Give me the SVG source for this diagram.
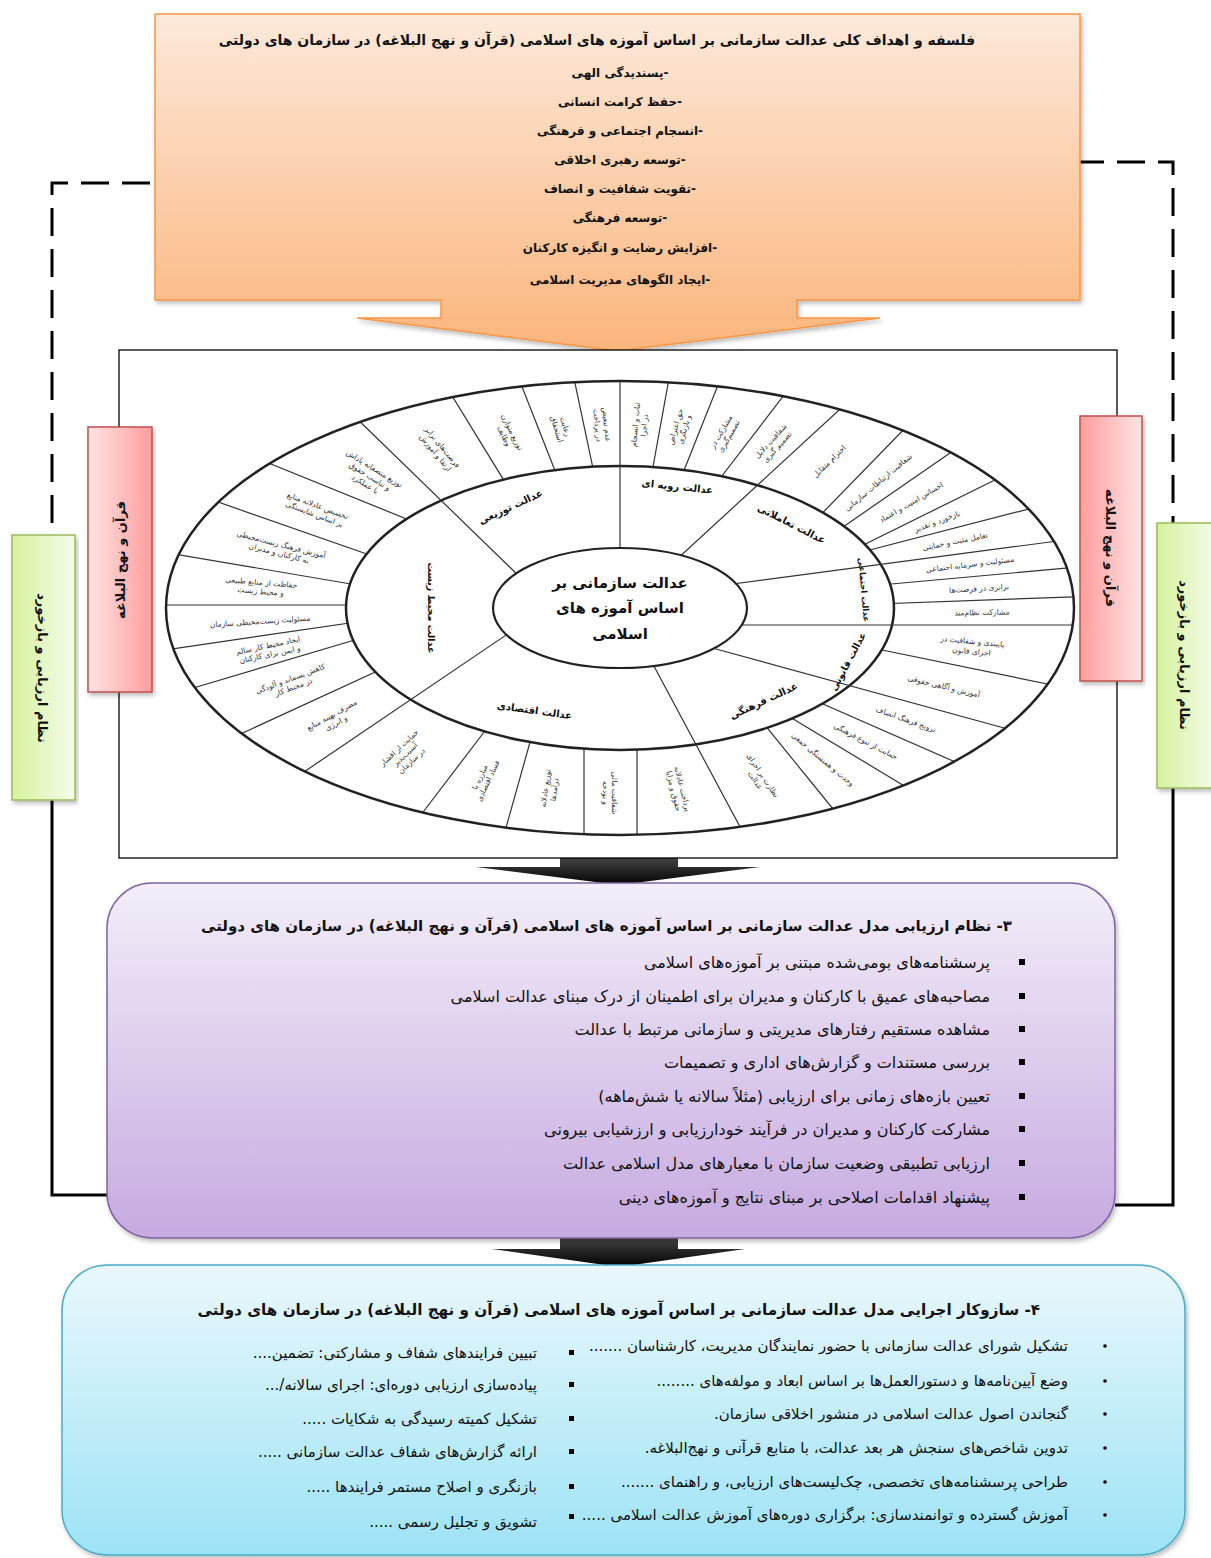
<svg xmlns="http://www.w3.org/2000/svg" width="1211" height="1558" viewBox="0 0 1211 1558">
<defs>
<style>
.fa{font-family:"DejaVu Sans",sans-serif;direction:rtl;fill:#111}
.t1{font-size:14px;font-weight:bold}
.t2{font-size:15px;font-weight:bold}
.t3{font-size:15.2px;font-weight:bold}
.it{font-size:12px;font-weight:bold;text-anchor:middle}
.pt{font-size:16px;text-anchor:start}
.bt{font-size:15px;text-anchor:start}
.side{font-size:13px;font-weight:bold;text-anchor:middle}
.c{font-size:7.5px;text-anchor:middle;fill:#333}
.sec{font-size:10px;font-weight:bold;text-anchor:middle}
.ctr{font-size:15px;font-weight:bold;text-anchor:middle}
.dv{stroke:#333;stroke-width:1.2;fill:none}
.dash{stroke:#000;stroke-width:3;fill:none;stroke-dasharray:28 13}
.solid{stroke:#000;stroke-width:3;fill:none}
</style>
<linearGradient id="gOr" x1="0" y1="0" x2="0" y2="1"><stop offset="0" stop-color="#fde9da"/><stop offset="1" stop-color="#fbb57c"/></linearGradient>
<linearGradient id="gRedL" x1="0" y1="0" x2="1" y2="0"><stop offset="0" stop-color="#ffe3e3"/><stop offset="1" stop-color="#ff9d9d"/></linearGradient>
<linearGradient id="gRedR" x1="0" y1="0" x2="1" y2="0"><stop offset="0" stop-color="#ff9d9d"/><stop offset="1" stop-color="#ffe3e3"/></linearGradient>
<linearGradient id="gGr" x1="0" y1="0" x2="1" y2="0"><stop offset="0" stop-color="#d6f29e"/><stop offset="1" stop-color="#f5fceb"/></linearGradient>
<linearGradient id="gPu" x1="0" y1="0" x2="0" y2="1"><stop offset="0" stop-color="#f3eef9"/><stop offset="1" stop-color="#c6aae0"/></linearGradient>
<linearGradient id="gBl" x1="0" y1="0" x2="0" y2="1"><stop offset="0" stop-color="#eaf8fc"/><stop offset="1" stop-color="#9de3f6"/></linearGradient>
<linearGradient id="gBk" x1="0" y1="0" x2="0" y2="1"><stop offset="0" stop-color="#444"/><stop offset="1" stop-color="#000"/></linearGradient>
<filter id="sh" x="-5%" y="-5%" width="110%" height="115%"><feDropShadow dx="2" dy="3" stdDeviation="2" flood-color="#000" flood-opacity="0.25"/></filter>
<clipPath id="clipO"><ellipse cx="620" cy="608" rx="454" ry="227"/></clipPath>
</defs>
<rect width="1211" height="1558" fill="#fff"/>

<g id="connectors">
<path class="dash" d="M150,183 H52 V535"/>
<path class="solid" d="M52,800 V1195 H107"/>
<path class="dash" d="M1076,162 H1173 V523"/>
<path class="solid" d="M1173,788 V1205 H1115"/>
<path d="M560,858 H678 V867 H760 L619,885 L476,867 H560 Z" fill="url(#gBk)"/>
<path d="M560,1238 H678 V1249 H745 L619,1267 L492,1249 H560 Z" fill="url(#gBk)"/>
</g>

<g id="philosophy">
<path d="M155,14 H1080 V300 H797 V318 H880 L618,351 L357,318 H441 V300 H155 Z" fill="url(#gOr)" stroke="#f79646" stroke-width="1.5" filter="url(#sh)"/>
<text class="fa t1" x="597" y="45" text-anchor="middle">فلسفه و اهداف کلی عدالت سازمانی بر اساس آموزه های اسلامی (قرآن و نهج البلاغه) در سازمان های دولتی</text>
<text class="fa it" x="620" y="77">-پسندیدگی الهی</text>
<text class="fa it" x="620" y="106">-حفظ کرامت انسانی</text>
<text class="fa it" x="620" y="135">-انسجام اجتماعی و فرهنگی</text>
<text class="fa it" x="620" y="164">-توسعه رهبری اخلاقی</text>
<text class="fa it" x="620" y="193">-تقویت شفافیت و انصاف</text>
<text class="fa it" x="620" y="222">-توسعه فرهنگی</text>
<text class="fa it" x="620" y="252">-افزایش رضایت و انگیزه کارکنان</text>
<text class="fa it" x="620" y="284">-ایجاد الگوهای مدیریت اسلامی</text>
</g>

<g id="model-frame">
<rect x="119" y="350" width="998" height="508" fill="#fff" stroke="#000" stroke-width="1.3"/>
</g>

<g id="wheel">
<ellipse cx="620" cy="608" rx="454" ry="227" fill="#fff"/>
<g clip-path="url(#clipO)">
<line class="dv" x1="670" y1="373" x2="649" y2="489"/>
<line class="dv" x1="722" y1="375" x2="675" y2="493"/>
<line class="dv" x1="791" y1="386" x2="705" y2="498"/>
<line class="dv" x1="912" y1="421" x2="803" y2="533"/>
<line class="dv" x1="963" y1="444" x2="817" y2="545"/>
<line class="dv" x1="1009" y1="473" x2="831" y2="561"/>
<line class="dv" x1="1048" y1="504" x2="831" y2="560"/>
<line class="dv" x1="1090" y1="566" x2="847" y2="588"/>
<line class="dv" x1="1097" y1="596" x2="849" y2="605"/>
<line class="dv" x1="1067" y1="688" x2="843" y2="642"/>
<line class="dv" x1="969" y1="768" x2="791" y2="690"/>
<line class="dv" x1="916" y1="793" x2="765" y2="702"/>
<line class="dv" x1="842" y1="820" x2="751" y2="708"/>
<line class="dv" x1="637" y1="849" x2="637" y2="735"/>
<line class="dv" x1="584" y1="847" x2="584" y2="731"/>
<line class="dv" x1="502" y1="842" x2="534" y2="728"/>
<line class="dv" x1="414" y1="824" x2="494" y2="719"/>
<line class="dv" x1="223" y1="742" x2="408" y2="657"/>
<line class="dv" x1="173" y1="694" x2="395" y2="628"/>
<line class="dv" x1="151" y1="652" x2="391" y2="617"/>
<line class="dv" x1="140" y1="605" x2="390" y2="605"/>
<line class="dv" x1="157" y1="551" x2="392" y2="591"/>
<line class="dv" x1="198" y1="495" x2="404" y2="567"/>
<line class="dv" x1="249" y1="455" x2="441" y2="533"/>
<line class="dv" x1="446" y1="386" x2="516" y2="500"/>
<line class="dv" x1="517" y1="374" x2="563" y2="491"/>
<line class="dv" x1="572" y1="369" x2="598" y2="492"/>
</g>
<ellipse cx="620" cy="608" rx="274" ry="142" fill="#fff" stroke="#222" stroke-width="2.5"/>
<g clip-path="url(#clipO)">
<line class="dv" x1="620" y1="370" x2="620" y2="560"/>
<line class="dv" x1="675" y1="561" x2="850" y2="400"/>
<line class="dv" x1="725" y1="585" x2="1065" y2="540"/>
<line class="dv" x1="730" y1="625" x2="1085" y2="625"/>
<line class="dv" x1="705" y1="646" x2="1015" y2="731"/>
<line class="dv" x1="648" y1="655" x2="746" y2="838"/>
<line class="dv" x1="515" y1="629" x2="295" y2="778"/>
<line class="dv" x1="523" y1="580" x2="350" y2="412"/>
</g>
<ellipse cx="620" cy="608" rx="127" ry="60" fill="#fff" stroke="#222" stroke-width="2.2"/>
<ellipse cx="620" cy="608" rx="454" ry="227" fill="none" stroke="#222" stroke-width="2.5"/>

<text class="fa ctr" x="620" y="588">عدالت سازمانی بر</text>
<text class="fa ctr" x="620" y="613">اساس آموزه های</text>
<text class="fa ctr" x="620" y="639">اسلامی</text>

<text class="fa sec" transform="translate(512,510) rotate(-25)">عدالت توزیعی</text>
<text class="fa sec" transform="translate(677,490) rotate(6)">عدالت رویه ای</text>
<text class="fa sec" transform="translate(790,527) rotate(27)">عدالت تعاملاتی</text>
<text class="fa sec" style="font-size:8.5px" transform="translate(861,590) rotate(85)">عدالت اجتماعی</text>
<text class="fa sec" style="font-size:9.5px" transform="translate(851,663) rotate(-62)">عدالت قانونی</text>
<text class="fa sec" transform="translate(765,704) rotate(-25)">عدالت فرهنگی</text>
<text class="fa sec" transform="translate(534,714) rotate(8)">عدالت اقتصادی</text>
<text class="fa sec" style="font-size:9.5px" transform="translate(428,608) rotate(90)">عدالت محیط زیست</text>

<text class="fa c" transform="translate(640,425) rotate(-84.9)"><tspan x="0" y="-2">ثبات و انسجام</tspan><tspan x="0" y="7">در اجرا</tspan></text>
<text class="fa c" transform="translate(680,428) rotate(-73.6)"><tspan x="0" y="-2">حق اعتراض</tspan><tspan x="0" y="7">و بازنگری</tspan></text>
<text class="fa c" transform="translate(725,434) rotate(-59.7)"><tspan x="0" y="-2">مشارکت در</tspan><tspan x="0" y="7">تصمیم‌گیری</tspan></text>
<text class="fa c" transform="translate(774,444) rotate(-47.7)"><tspan x="0" y="-2">شفافیت دلایل</tspan><tspan x="0" y="7">تصمیم گیری</tspan></text>
<text class="fa c" transform="translate(829,461) rotate(-44.6)"><tspan x="0" y="3">احترام متقابل</tspan></text>
<text class="fa c" transform="translate(878,482) rotate(-39.9)"><tspan x="0" y="3">شفافیت ارتباطات سازمانی</tspan></text>
<text class="fa c" transform="translate(911,502) rotate(-30.3)"><tspan x="0" y="3">احساس امنیت و اعتماد</tspan></text>
<text class="fa c" transform="translate(937,521) rotate(-20.4)"><tspan x="0" y="3">بازخورد و تقدیر</tspan></text>
<text class="fa c" transform="translate(955,541) rotate(-11.5)"><tspan x="0" y="3">تعامل مثبت و حمایتی</tspan></text>
<text class="fa c" transform="translate(970,564) rotate(-7)"><tspan x="0" y="3">مسئولیت و سرمایه اجتماعی</tspan></text>
<text class="fa c" transform="translate(979,588) rotate(-3.9)"><tspan x="0" y="3">برابری در فرصت‌ها</tspan></text>
<text class="fa c" transform="translate(982,612) rotate(-1)"><tspan x="0" y="3">مشارکت نظام‌مند</tspan></text>
<text class="fa c" transform="translate(972,646) rotate(5.5)"><tspan x="0" y="-2">پایبندی و شفافیت در</tspan><tspan x="0" y="8">اجرای قانون</tspan></text>
<text class="fa c" transform="translate(944,686) rotate(13.4)"><tspan x="0" y="3">آموزش و آگاهی حقوقی</tspan></text>
<text class="fa c" transform="translate(906,719) rotate(19.5)"><tspan x="0" y="3">ترویج فرهنگ انصاف</tspan></text>
<text class="fa c" transform="translate(866,741) rotate(27.4)"><tspan x="0" y="3">حمایت از تنوع فرهنگی</tspan></text>
<text class="fa c" transform="translate(823,759) rotate(40)"><tspan x="0" y="3">وحدت و همبستگی جمعی</tspan></text>
<text class="fa c" transform="translate(759,778) rotate(56)"><tspan x="0" y="-2">نظارت بر اجرای</tspan><tspan x="0" y="7">عدالت</tspan></text>
<text class="fa c" transform="translate(678,790) rotate(75.8)"><tspan x="0" y="-2">پرداخت عادلانه</tspan><tspan x="0" y="7">حقوق و مزایا</tspan></text>
<text class="fa c" transform="translate(610,793) rotate(90)"><tspan x="0" y="-2">شفافیت مالی</tspan><tspan x="0" y="7">و بودجه</tspan></text>
<text class="fa c" transform="translate(550,789) rotate(-82.4)"><tspan x="0" y="-2">توزیع عادلانه</tspan><tspan x="0" y="7">درآمدها</tspan></text>
<text class="fa c" transform="translate(484,779) rotate(-64.8)"><tspan x="0" y="-2">مبارزه با</tspan><tspan x="0" y="7">فساد اقتصادی</tspan></text>
<text class="fa c" transform="translate(405,754) rotate(-43)"><tspan x="0" y="-6">حمایت از اقشار</tspan><tspan x="0" y="3">آسیب‌پذیر</tspan><tspan x="0" y="12">در سازمان</tspan></text>
<text class="fa c" transform="translate(334,719) rotate(-28.9)"><tspan x="0" y="-2">مصرف بهینه منابع</tspan><tspan x="0" y="7">و انرژی</tspan></text>
<text class="fa c" transform="translate(292,683) rotate(-20.4)"><tspan x="0" y="-2">کاهش پسماند و آلودگی</tspan><tspan x="0" y="7">در محیط کار</tspan></text>
<text class="fa c" transform="translate(269,650) rotate(-12)"><tspan x="0" y="-2">ایجاد محیط کار سالم</tspan><tspan x="0" y="7">و ایمن برای کارکنان</tspan></text>
<text class="fa c" transform="translate(260,621) rotate(-3.8)"><tspan x="0" y="3">مسئولیت زیست‌محیطی سازمان</tspan></text>
<text class="fa c" transform="translate(261,587) rotate(4.8)"><tspan x="0" y="-2">حفاظت از منابع طبیعی</tspan><tspan x="0" y="7">و محیط زیست</tspan></text>
<text class="fa c" transform="translate(280,549) rotate(14.3)"><tspan x="0" y="-2">آموزش فرهنگ زیست‌محیطی</tspan><tspan x="0" y="7">به کارکنان و مدیران</tspan></text>
<text class="fa c" transform="translate(316,510) rotate(20.6)"><tspan x="0" y="-2">تخصیص عادلانه منابع</tspan><tspan x="0" y="7">بر اساس شایستگی</tspan></text>
<text class="fa c" transform="translate(370,476) rotate(31.6)"><tspan x="0" y="-6">توزیع منصفانه پاداش</tspan><tspan x="0" y="3">و تناسب حقوق</tspan><tspan x="0" y="12">با عملکرد</tspan></text>
<text class="fa c" transform="translate(439,450) rotate(50.7)"><tspan x="0" y="-2">فرصت‌های برابر</tspan><tspan x="0" y="7">ارتقا و آموزش</tspan></text>
<text class="fa c" transform="translate(508,434) rotate(63.6)"><tspan x="0" y="-2">توزیع متوازن</tspan><tspan x="0" y="7">وظایف</tspan></text>
<text class="fa c" transform="translate(561,428) rotate(73.6)"><tspan x="0" y="-2">رعایت</tspan><tspan x="0" y="7">استحقاق</tspan></text>
<text class="fa c" transform="translate(602,425) rotate(84.1)"><tspan x="0" y="-2">عدم تبعیض</tspan><tspan x="0" y="7">در پرداخت</tspan></text>
</g>

<g id="quran-left">
<rect x="88" y="427" width="64" height="265" fill="url(#gRedL)" stroke="#c0504d" stroke-width="1.5" filter="url(#sh)"/>
<text class="fa side" transform="translate(120,560) rotate(-90)" y="5">قرآن و نهج البلاغه</text>
</g>
<g id="quran-right">
<rect x="1080" y="416" width="62" height="265" fill="url(#gRedR)" stroke="#c0504d" stroke-width="1.5" filter="url(#sh)"/>
<text class="fa side" transform="translate(1111,548) rotate(90)" y="5">قرآن و نهج البلاغه</text>
</g>
<g id="feedback-left">
<rect x="12" y="535" width="63" height="265" fill="url(#gGr)" stroke="#9bbb59" stroke-width="1.5" filter="url(#sh)"/>
<text class="fa side" transform="translate(43,668) rotate(90)" y="5">نظام ارزیابی و بازخورد</text>
</g>
<g id="feedback-right">
<rect x="1157" y="523" width="60" height="265" fill="url(#gGr)" stroke="#9bbb59" stroke-width="1.5" filter="url(#sh)"/>
<text class="fa side" transform="translate(1185,655) rotate(90)" y="5">نظام ارزیابی و بازخورد</text>
</g>

<g id="evaluation">
<rect x="107" y="883" width="1008" height="355" rx="45" fill="url(#gPu)" stroke="#8064a2" stroke-width="1.5" filter="url(#sh)"/>
<text class="fa t2" x="1012" y="931" text-anchor="start">۳- نظام ارزیابی مدل  عدالت سازمانی بر اساس آموزه های اسلامی (قرآن و نهج البلاغه) در سازمان های دولتی</text>
<g fill="#000"><rect x="1019" y="959" width="6" height="6"/><rect x="1019" y="993" width="6" height="6"/><rect x="1019" y="1026" width="6" height="6"/><rect x="1019" y="1059" width="6" height="6"/><rect x="1019" y="1093" width="6" height="6"/><rect x="1019" y="1126" width="6" height="6"/><rect x="1019" y="1160" width="6" height="6"/><rect x="1019" y="1194" width="6" height="6"/></g>
<text class="fa pt" x="990" y="968">پرسشنامه‌های بومی‌شده مبتنی بر آموزه‌های اسلامی</text>
<text class="fa pt" x="990" y="1002">مصاحبه‌های عمیق با کارکنان و مدیران برای اطمینان از درک مبنای عدالت اسلامی</text>
<text class="fa pt" x="990" y="1035">مشاهده مستقیم رفتارهای مدیریتی و سازمانی مرتبط با عدالت</text>
<text class="fa pt" x="990" y="1068">بررسی مستندات و گزارش‌های اداری و تصمیمات</text>
<text class="fa pt" x="990" y="1102">تعیین بازه‌های زمانی برای ارزیابی (مثلاً سالانه یا شش‌ماهه)</text>
<text class="fa pt" x="990" y="1135">مشارکت کارکنان و مدیران در فرآیند خودارزیابی و ارزشیابی بیرونی</text>
<text class="fa pt" x="990" y="1169">ارزیابی تطبیقی وضعیت سازمان با معیارهای مدل اسلامی عدالت</text>
<text class="fa pt" x="990" y="1203">پیشنهاد اقدامات اصلاحی بر مبنای نتایج و آموزه‌های دینی</text>
</g>

<g id="mechanism">
<rect x="62" y="1265" width="1123" height="290" rx="45" fill="url(#gBl)" stroke="#4bacc6" stroke-width="1.5" filter="url(#sh)"/>
<text class="fa t3" x="1040" y="1315" text-anchor="start">۴- سازوکار اجرایی مدل عدالت سازمانی بر اساس آموزه های اسلامی (قرآن و نهج البلاغه) در سازمان های دولتی</text>
<g fill="#000"><circle cx="1105" cy="1346" r="1.8"/><circle cx="1105" cy="1381" r="1.8"/><circle cx="1105" cy="1414" r="1.8"/><circle cx="1105" cy="1448" r="1.8"/><circle cx="1105" cy="1482" r="1.8"/><circle cx="1105" cy="1515" r="1.8"/></g>
<text class="fa bt" x="1068" y="1351">تشکیل شورای عدالت سازمانی با حضور نمایندگان مدیریت، کارشناسان .......</text>
<text class="fa bt" x="1068" y="1386">وضع آیین‌نامه‌ها و دستورالعمل‌ها بر اساس ابعاد و مولفه‌های ........</text>
<text class="fa bt" x="1068" y="1419">گنجاندن اصول عدالت اسلامی در منشور اخلاقی سازمان.</text>
<text class="fa bt" x="1068" y="1453">تدوین شاخص‌های سنجش هر بعد عدالت، با منابع قرآنی و نهج‌البلاغه.</text>
<text class="fa bt" x="1068" y="1487">طراحی پرسشنامه‌های تخصصی، چک‌لیست‌های ارزیابی، و راهنمای .......</text>
<text class="fa bt" x="1068" y="1520">آموزش گسترده و توانمندسازی: برگزاری دوره‌های آموزش عدالت اسلامی .....</text>
<g fill="#000"><rect x="569" y="1350" width="5" height="5"/><rect x="569" y="1382" width="5" height="5"/><rect x="569" y="1416" width="5" height="5"/><rect x="569" y="1449" width="5" height="5"/><rect x="569" y="1484" width="5" height="5"/><rect x="569" y="1514" width="5" height="5"/></g>
<text class="fa bt" x="537" y="1358">تبیین فرایندهای شفاف و مشارکتی: تضمین....</text>
<text class="fa bt" x="537" y="1390">پیاده‌سازی ارزیابی دوره‌ای: اجرای سالانه/...</text>
<text class="fa bt" x="537" y="1424">تشکیل کمیته رسیدگی به شکایات .....</text>
<text class="fa bt" x="537" y="1457">ارائه گزارش‌های شفاف عدالت سازمانی .....</text>
<text class="fa bt" x="537" y="1492">بازنگری و اصلاح مستمر فرایندها .....</text>
<text class="fa bt" x="537" y="1527">تشویق و تجلیل رسمی .....</text>
</g>
</svg>
